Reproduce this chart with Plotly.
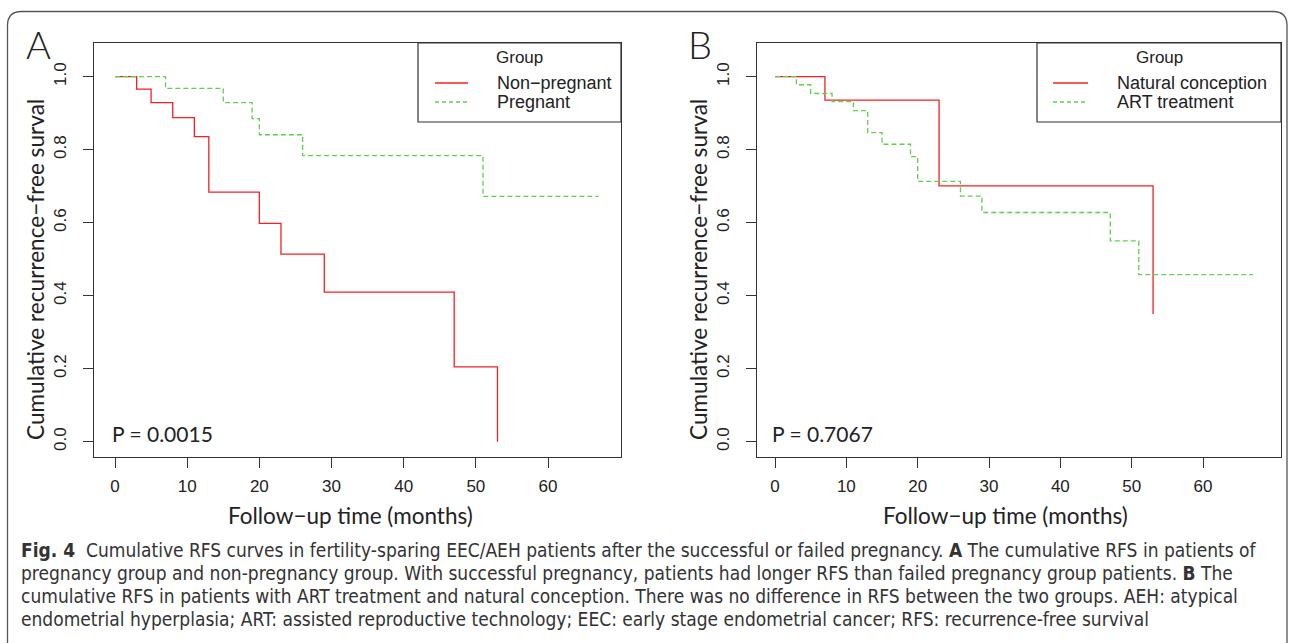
import plotly.graph_objects as go

# ---------------- data ----------------
a_nonpreg_time = [0, 3, 5, 8, 11, 13, 20, 23, 29, 47, 53]
a_nonpreg_surv = [1.0, 0.966, 0.929, 0.888, 0.836, 0.684, 0.598, 0.514, 0.410, 0.205, 0.0]

a_preg_time = [0, 7, 15, 19, 20, 26, 51, 67]
a_preg_surv = [1.0, 0.968, 0.929, 0.885, 0.841, 0.784, 0.672, 0.672]

b_natural_time = [0, 7, 23, 53]
b_natural_surv = [1.0, 0.936, 0.701, 0.350]

b_art_time = [0, 3, 5, 8, 11, 13, 15, 19, 20, 26, 29, 47, 51, 67]
b_art_surv = [1.0, 0.978, 0.954, 0.932, 0.907, 0.847, 0.815, 0.781, 0.713, 0.673, 0.628, 0.550, 0.458, 0.458]

x_ticks = [0, 10, 20, 30, 40, 50, 60]
y_ticks = [0.0, 0.2, 0.4, 0.6, 0.8, 1.0]
y_tick_labels = ["0.0", "0.2", "0.4", "0.6", "0.8", "1.0"]

legend_a = ["Non\u2212pregnant", "Pregnant"]
legend_b = ["Natural conception", "ART treatment"]
p_values = ["P = 0.0015", "P = 0.7067"]
x_title = "Follow\u2212up time (months)"
y_title = "Cumulative recurrence\u2212free surval"

caption_lines = [
    "<b>Fig. 4</b>  Cumulative RFS curves in fertility-sparing EEC/AEH patients after the successful or failed pregnancy. <b>A</b> The cumulative RFS in patients of",
    "pregnancy group and non-pregnancy group. With successful pregnancy, patients had longer RFS than failed pregnancy group patients. <b>B</b> The",
    "cumulative RFS in patients with ART treatment and natural conception. There was no difference in RFS between the two groups. AEH: atypical",
    "endometrial hyperplasia; ART: assisted reproductive technology; EEC: early stage endometrial cancer; RFS: recurrence-free survival",
]

# ---------------- layout helpers ----------------
W, H = 1292, 643
def X(px):
    return px / W
def Y(py):
    return 1 - py / H

RED = "#F52020"
GREEN = "#61D04F"
AXC = "#333333"
TICKFONT = dict(family="Liberation Sans, Arial, sans-serif", size=17, color="#222222")
TITLEFONT = dict(family="Lato, Noto Sans, sans-serif", size=22, color="#222222")

# panel geometry in pixels
panels = {
    "A": dict(left=94, right=621, top=43, bottom=457, x0px=115, x60px=548),
    "B": dict(left=757, right=1281, top=43, bottom=457, x0px=775, x60px=1203),
}
y1px, y0px = 76.7, 441.7

fig = go.Figure()

def xrange_for(p):
    s = (p["x60px"] - p["x0px"]) / 60.0
    return [(p["left"] - p["x0px"]) / s, (p["right"] - p["x0px"]) / s]

def yrange_for(p):
    s = (y0px - y1px)
    return [(y0px - p["bottom"]) / s, (y0px - p["top"]) / s]

# traces
fig.add_trace(go.Scatter(x=a_nonpreg_time, y=a_nonpreg_surv, mode="lines", line_shape="hv",
                         line=dict(color=RED, width=1.3), name=legend_a[0], xaxis="x", yaxis="y"))
fig.add_trace(go.Scatter(x=a_preg_time, y=a_preg_surv, mode="lines", line_shape="hv",
                         line=dict(color=GREEN, width=1.3, dash="5px,3px"), name=legend_a[1], xaxis="x", yaxis="y"))
fig.add_trace(go.Scatter(x=b_natural_time, y=b_natural_surv, mode="lines", line_shape="hv",
                         line=dict(color=RED, width=1.3), name=legend_b[0], xaxis="x2", yaxis="y2"))
fig.add_trace(go.Scatter(x=b_art_time, y=b_art_surv, mode="lines", line_shape="hv",
                         line=dict(color=GREEN, width=1.3, dash="5px,3px"), name=legend_b[1], xaxis="x2", yaxis="y2"))

def axis_common():
    return dict(showgrid=False, zeroline=False, showline=True, linecolor=AXC, linewidth=1.2,
                mirror=True, ticks="outside", ticklen=10, tickwidth=1.1, tickcolor=AXC,
                tickfont=TICKFONT)

pa, pb = panels["A"], panels["B"]
fig.update_layout(
    width=W, height=H, margin=dict(l=0, r=0, t=0, b=0),
    paper_bgcolor="white", plot_bgcolor="white", showlegend=False,
    xaxis=dict(domain=[X(pa["left"]), X(pa["right"])], range=xrange_for(pa), tickvals=x_ticks,
               anchor="y", ticklabelstandoff=3, **axis_common()),
    yaxis=dict(domain=[Y(pa["bottom"]), Y(pa["top"])], range=yrange_for(pa), tickvals=y_ticks,
               ticktext=y_tick_labels, tickangle=-90, anchor="x", ticklabelstandoff=10, **axis_common()),
    xaxis2=dict(domain=[X(pb["left"]), X(pb["right"])], range=xrange_for(pb), tickvals=x_ticks,
                anchor="y2", ticklabelstandoff=3, **axis_common()),
    yaxis2=dict(domain=[Y(pb["bottom"]), Y(pb["top"])], range=yrange_for(pb), tickvals=y_ticks,
                ticktext=y_tick_labels, tickangle=-90, anchor="x2", ticklabelstandoff=10, **axis_common()),
)

shapes = []
annots = []

# outer rounded frame
l, t, r, b, rad = 7.5, 11.5, 1287, 700, 14
path = (f"M {X(l)},{Y(b)} L {X(l)},{Y(t+rad)} Q {X(l)},{Y(t)} {X(l+rad)},{Y(t)} "
        f"L {X(r-rad)},{Y(t)} Q {X(r)},{Y(t)} {X(r)},{Y(t+rad)} L {X(r)},{Y(b)}")
shapes.append(dict(type="path", path=path, xref="paper", yref="paper",
                   line=dict(color="#555555", width=1.3)))

legend_boxes = {"A": (418, 621, 43, 122, 435, 468, 495), "B": (1037, 1281, 43, 122, 1053, 1088, 1115)}
legend_texts = {"A": legend_a, "B": legend_b}
for key, (bl, br, bt, bb, ll, lr, tx) in legend_boxes.items():
    shapes.append(dict(type="rect", xref="paper", yref="paper", x0=X(bl), x1=X(br), y0=Y(bb), y1=Y(bt),
                       line=dict(color=AXC, width=1.2), fillcolor="white", layer="above"))
    annots.append(dict(x=X((bl + br) / 2), y=Y(58), xref="paper", yref="paper", text="Group",
                       showarrow=False, xanchor="center", yanchor="middle",
                       font=dict(family="Liberation Sans, Arial", size=17, color="#222")))
    for i, (ypx, col, dash) in enumerate([(83, RED, "solid"), (102, GREEN, "4px,3px")]):
        shapes.append(dict(type="line", xref="paper", yref="paper", x0=X(ll), x1=X(lr), y0=Y(ypx), y1=Y(ypx),
                           line=dict(color=col, width=1.3, dash=dash), layer="above"))
        annots.append(dict(x=X(tx), y=Y(ypx), xref="paper", yref="paper", text=legend_texts[key][i],
                           showarrow=False, xanchor="left", yanchor="middle",
                           font=dict(family="Liberation Sans, Arial", size=18, color="#222")))

# panel letters
for key, xpx in [("A", 38), ("B", 700)]:
    annots.append(dict(x=X(xpx), y=Y(44), xref="paper", yref="paper", text=key, showarrow=False,
                       xanchor="center", yanchor="middle",
                       font=dict(family="Lato, Noto Sans", size=38, color="#222", weight=300)))

# p values
for ptxt, xpx in [(p_values[0], 110), (p_values[1], 770)]:
    annots.append(dict(x=X(xpx), y=Y(433), xref="paper", yref="paper", text=ptxt, showarrow=False,
                       xanchor="left", yanchor="middle", font=dict(TITLEFONT, size=21)))

# axis titles
for xc in [350, 1005]:
    annots.append(dict(x=X(xc), y=Y(515), xref="paper", yref="paper", text=x_title, showarrow=False,
                       xanchor="center", yanchor="middle", font=dict(TITLEFONT, size=22.5)))
for xc in [35, 698]:
    annots.append(dict(x=X(xc), y=Y(270), xref="paper", yref="paper", text=y_title, showarrow=False,
                       textangle=-90, xanchor="center", yanchor="middle", font=dict(TITLEFONT, size=22.6)))

# caption
for i, line in enumerate(caption_lines):
    annots.append(dict(x=X(19), y=Y(550 + 23 * i), xref="paper", yref="paper", text=line, showarrow=False,
                       xanchor="left", yanchor="middle",
                       font=dict(family="Liberation Sans Narrow, DejaVu Sans Condensed, Liberation Sans",
                                 size=19, color="#333333")))

fig.update_layout(shapes=shapes, annotations=annots)
fig.write_html("out.html", config={"displayModeBar": False},
               post_script="document.body.style.margin='0';document.body.style.padding='0';"
                           "document.documentElement.style.overflow='hidden';")
